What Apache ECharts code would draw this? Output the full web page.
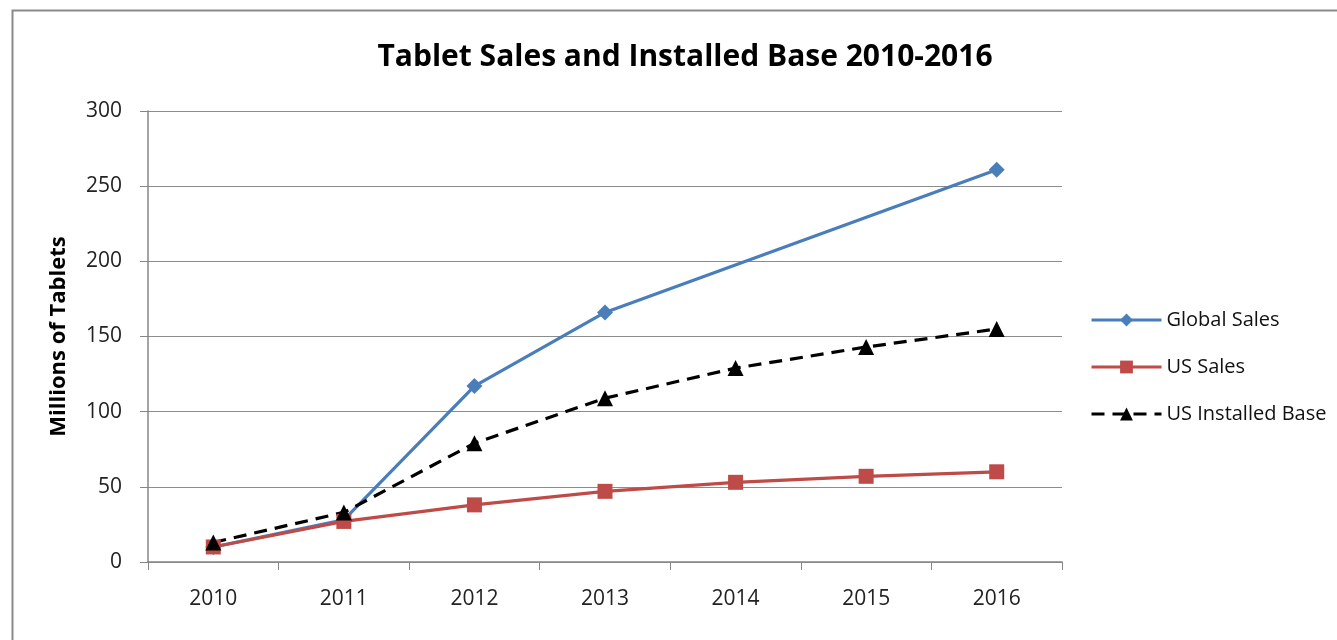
<!DOCTYPE html>
<html><head><meta charset="utf-8">
<script src="https://cdn.jsdelivr.net/npm/echarts@6/dist/echarts.min.js"></script>
<style>html,body{margin:0;padding:0;background:#fff}#c{width:1337px;height:640px}</style>
</head><body><div id="c"></div>
<script>
const years = ['2010','2011','2012','2013','2014','2015','2016'];
const globalSales = [10, 28, 117, 166, null, null, 261];
const usSales = [10, 27, 38, 47, 53, 57, 60];
const usInstalledBase = [13, 33, 79, 109, 129, 143, 155];
const yTicks = [0, 50, 100, 150, 200, 250, 300];

const chart = echarts.init(document.getElementById('c'), null, {renderer:'canvas'});
const font = '"Open Sans", "Noto Sans", sans-serif';
chart.setOption({
  animation: false,
  backgroundColor: '#fff',
  graphic: [{type:'rect', shape:{x:12.5, y:10.5, width:1340, height:640}, style:{fill:'none', stroke:'#8a8a8a', lineWidth:2}}],
  title: {text:'Tablet Sales and Installed Base 2010-2016', left:680, textAlign:'center', top:37,
    textStyle:{fontFamily:font, fontWeight:'bold', fontSize:30, color:'#000'}},
  grid: {left:148, right:275, top:111, bottom:78},
  legend: {orient:'vertical', left:1085, top:305, itemGap:27, itemWidth:70, itemHeight:16,
    textStyle:{fontFamily:font, fontSize:20, color:'#111'},
    data:[
      {name:'Global Sales', lineStyle:{width:3}},
      {name:'US Sales', lineStyle:{width:3}},
      {name:'US Installed Base', lineStyle:{width:3}}
    ]},
  xAxis: {type:'category', data:years, boundaryGap:true,
    axisLine:{lineStyle:{color:'#868686', width:1.5}},
    axisTick:{show:true, length:8, lineStyle:{color:'#868686'}},
    axisLabel:{fontFamily:font, fontSize:21, color:'#222', margin:27}},
  yAxis: {type:'value', min:0, max:300, interval:50,
    name:'Millions of Tablets', nameLocation:'middle', nameGap:78, nameRotate:90,
    nameTextStyle:{fontFamily:font, fontWeight:'bold', fontSize:22, color:'#000'},
    axisLine:{show:true, lineStyle:{color:'#868686', width:1.5}},
    axisTick:{show:true, length:8, lineStyle:{color:'#868686'}},
    axisLabel:{fontFamily:font, fontSize:21, color:'#222', margin:26,
      formatter: v => yTicks.includes(v) ? String(v) : ''},
    splitLine:{lineStyle:{color:'#8c8c8c', width:1}}},
  series: [
    {name:'Global Sales', type:'line', data:globalSales, connectNulls:true,
     symbol:'diamond', symbolSize:16, itemStyle:{color:'#4A7EBB'}, lineStyle:{color:'#4A7EBB', width:3.2}},
    {name:'US Sales', type:'line', data:usSales,
     symbol:'rect', symbolSize:15, itemStyle:{color:'#BE4B48'}, lineStyle:{color:'#BE4B48', width:3.2}},
    {name:'US Installed Base', type:'line', data:usInstalledBase,
     symbol:'triangle', symbolSize:16, itemStyle:{color:'#000'}, lineStyle:{color:'#000', width:3.2, type:[13,8]}}
  ]
});
</script></body></html>
